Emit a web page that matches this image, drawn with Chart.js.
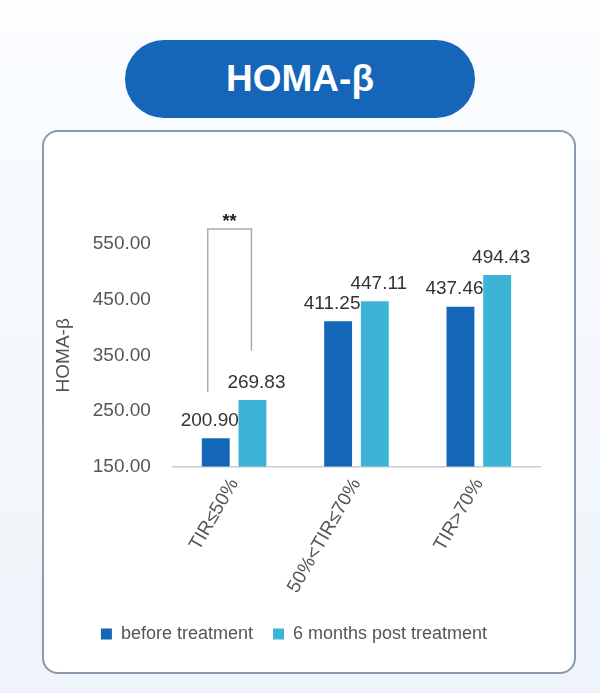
<!DOCTYPE html>
<html>
<head>
<meta charset="utf-8">
<script src="https://cdn.jsdelivr.net/npm/chart.js@4"></script>
<style>
  body { margin: 0; width: 600px; height: 693px; background: linear-gradient(#fbfdff, #eef4fa); font-family: Arial, "Liberation Sans", sans-serif; position: relative; overflow: hidden; }
  .pill { position: absolute; left: 125px; top: 40px; width: 350px; height: 78px; border-radius: 39px; background: #1565b8; color: #fff; font-weight: bold; font-size: 37px; display: flex; align-items: center; justify-content: center; }
  .card { position: absolute; left: 42px; top: 130px; width: 530px; height: 540px; border: 2px solid #8a9aae; border-radius: 16px; background: #fff; }
  #c { position: absolute; left: 0; top: 0; }
</style>
</head>
<body>
<div class="pill">HOMA-β</div>
<div class="card"></div>
<canvas id="c" width="600" height="693"></canvas>
<script>
const categories = ["TIR≤50%", "50%<TIR≤70%", "TIR>70%"];
const beforeValues = [200.90, 411.25, 437.46];
const afterValues = [269.83, 447.11, 494.43];
const seriesNames = ["before treatment", "6 months post treatment"];
// significance bracket: [category index, top, left end, right end]
const bracket = [0, 577, 284, 358];

const valueLabels = {
  id: "valueLabels",
  afterDatasetsDraw(chart) {
    const ctx = chart.ctx;
    ctx.save();
    ctx.font = "19px Arial, 'Liberation Sans'";
    ctx.fillStyle = "#333";
    ctx.textAlign = "center";
    ctx.textBaseline = "bottom";
    chart.data.datasets.forEach((ds, i) => {
      chart.getDatasetMeta(i).data.forEach((bar, j) => {
        const off = i === 0 ? -6 : 4;
        ctx.fillText(ds.data[j].toFixed(2), bar.x + off, bar.y - 8);
      });
    });
    // bracket
    const y = chart.scales.y;
    const b0 = chart.getDatasetMeta(0).data[bracket[0]];
    const b1 = chart.getDatasetMeta(1).data[bracket[0]];
    const xl = b0.x - 8, xr = b1.x - 1;
    ctx.strokeStyle = "#a8adb3";
    ctx.lineWidth = 1.5;
    ctx.beginPath();
    ctx.moveTo(xl, y.getPixelForValue(bracket[2]));
    ctx.lineTo(xl, y.getPixelForValue(bracket[1]));
    ctx.lineTo(xr, y.getPixelForValue(bracket[1]));
    ctx.lineTo(xr, y.getPixelForValue(bracket[3]));
    ctx.stroke();
    ctx.fillStyle = "#222";
    ctx.font = "bold 18px Arial";
    ctx.textBaseline = "alphabetic";
    ctx.fillText("**", (xl + xr) / 2, y.getPixelForValue(bracket[1]) - 2);
    ctx.restore();
  }
};

new Chart(document.getElementById("c"), {
  type: "bar",
  data: {
    labels: categories,
    datasets: [
      { label: seriesNames[0], data: beforeValues, backgroundColor: "#1467b8" },
      { label: seriesNames[1], data: afterValues, backgroundColor: "#3cb4d6" }
    ]
  },
  options: {
    responsive: false,
    animation: false,
    categoryPercentage: 0.6,
    barPercentage: 0.76,
    layout: { padding: { left: 48, right: 60, top: 244, bottom: 40 } },
    scales: {
      x: {
        grid: { display: false, drawTicks: false },
        border: { color: "#c8ccd0", width: 1.5 },
        ticks: { color: "#555", font: { size: 19 }, maxRotation: 60, minRotation: 60, padding: 8 }
      },
      y: {
        min: 150, max: 550,
        grid: { display: false },
        border: { display: false },
        title: { display: true, text: "HOMA-β", color: "#555", font: { size: 19 } },
        ticks: { stepSize: 100, color: "#555", font: { size: 19 }, padding: 14, callback: v => v.toFixed(2) }
      }
    },
    plugins: {
      legend: {
        position: "bottom",
        labels: { color: "#555", font: { size: 18 }, boxWidth: 11, boxHeight: 11, padding: 20 }
      },
      tooltip: { enabled: false }
    }
  },
  plugins: [valueLabels]
});
</script>
</body>
</html>
